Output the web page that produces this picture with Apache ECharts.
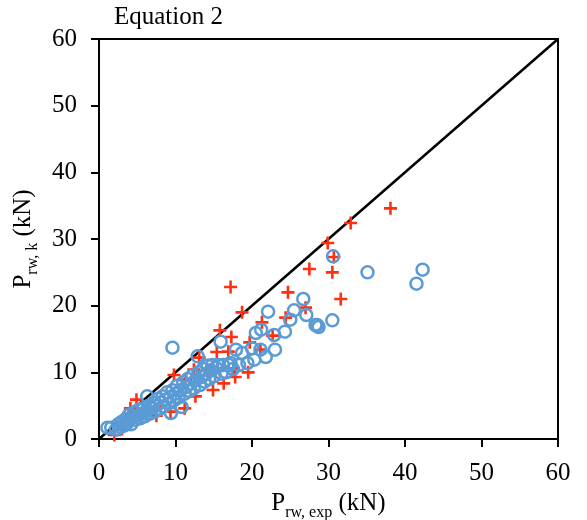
<!DOCTYPE html>
<html><head><meta charset="utf-8">
<script src="https://cdn.jsdelivr.net/npm/echarts@6/dist/echarts.min.js"></script>
<style>html,body{margin:0;padding:0;background:#fff}#c{width:587px;height:520px}</style>
</head><body><div id="c"></div>
<script>
const titleText = 'Equation 2';
const xTicks = [0, 10, 20, 30, 40, 50, 60];
const yTicks = [0, 10, 20, 30, 40, 50, 60];
const lineOfEquality = [[0, 0], [60, 60]];

// Red crosses
const crossPoints = [
  [2.0,0.6],[3.0,1.5],[4.1,4.6],[4.9,5.9],[5.5,3.2],[6.5,4.5],[7.5,3.5],[8.0,5.0],
  [9.35,4.1],[9.8,9.6],[11.2,4.6],[11.3,8.9],[12.4,10.4],[12.6,6.4],[13.1,12.2],
  [14.6,10.4],[14.9,7.35],[15.4,13.05],[15.8,16.3],[16.3,8.35],[16.9,13.1],[17.3,15.3],
  [17.2,22.8],[17.8,9.3],[17.6,10.6],[18.7,19.0],[19.5,10.0],[19.7,14.5],[21.3,17.5],
  [21.1,13.4],[22.7,15.5],[24.4,18.2],[24.7,22.0],[27.0,19.7],[27.5,25.5],[29.9,29.4],
  [30.7,27.3],[30.5,25.0],[31.6,21.0],[32.9,32.4],[38.1,34.6]
];

// Blue circles
const circlePoints = [
  [1.1,1.7],[1.6,1.7],[2.2,1.4],[2.5,2.2],[2.8,1.8],[3.0,2.6],[3.3,2.0],[3.5,3.0],[3.7,2.4],[3.9,3.6],
  [4.0,2.8],[4.2,2.2],[4.4,3.3],[4.6,4.0],[4.8,2.9],[5.0,3.5],[5.2,4.4],[5.4,3.1],[5.6,3.8],
  [5.8,4.6],[6.0,3.4],[6.2,4.2],[6.3,6.4],[6.5,5.0],[6.7,3.8],[6.9,4.6],[7.1,5.4],[7.3,4.1],
  [7.5,5.0],[7.7,6.0],[7.9,4.5],[8.1,5.5],[8.3,6.4],[8.5,4.9],[8.7,5.9],[8.9,7.0],[9.1,5.3],
  [9.3,6.3],[9.4,3.9],[9.6,13.7],[9.6,7.3],[9.8,5.8],[10.0,6.8],[10.2,8.0],[10.4,6.2],
  [10.6,7.3],[10.8,4.8],[11.0,8.5],[11.2,6.8],[11.4,7.8],[11.6,9.0],[11.8,7.2],[12.0,8.3],
  [12.2,9.5],[12.4,7.6],[12.6,8.8],[12.9,12.4],[13.0,10.0],[13.2,8.1],[13.4,9.3],[13.6,10.5],
  [13.8,8.6],[14.0,9.8],[14.2,11.0],[14.4,9.0],[14.6,10.3],[14.8,11.1],[15.0,9.4],[15.3,10.7],
  [15.6,11.1],[15.9,14.6],[16.0,9.8],[16.2,11.1],[16.6,10.0],[17.0,11.1],[17.2,11.4],
  [17.9,13.4],[17.5,10.5],[18.3,11.1],[18.7,12.9],[19.4,11.4],[20.0,13.6],[20.3,11.9],
  [20.5,15.9],[21.1,13.4],[21.2,16.4],[21.8,12.3],[22.1,19.1],[22.9,15.6],[23.0,13.4],
  [24.3,16.1],[25.0,17.9],[25.5,19.3],[26.7,21.0],[27.1,18.6],[28.3,17.1],[28.7,16.8],
  [28.5,17.1],[30.5,17.8],[30.6,27.4],[35.1,25.0],[41.5,23.3],[42.3,25.4]
];

const FONT = '"Liberation Serif","Times New Roman",serif';
const chart = echarts.init(document.getElementById('c'), null, {renderer: 'canvas'});
const crossPath = 'path://M4,0H6V4H10V6H6V10H4V6H0V4H4Z';

const nameRich = {
  p: {fontFamily: FONT, fontSize: 25, color: '#000', lineHeight: 30, verticalAlign: 'top'},
  s: {fontFamily: FONT, fontSize: 16, color: '#000', lineHeight: 17, verticalAlign: 'bottom'}
};

chart.setOption({
  animation: false,
  backgroundColor: '#fff',
  title: {
    text: titleText, left: 109, top: 0,
    textStyle: {fontFamily: FONT, fontSize: 25, fontWeight: 'normal', color: '#000'}
  },
  grid: {left: 99, right: 29, top: 39, bottom: 81, containLabel: false, outerBoundsMode: 'none',
         show: true, borderColor: '#000', borderWidth: 2, backgroundColor: 'transparent'},
  xAxis: {
    type: 'value', min: xTicks[0], max: xTicks[xTicks.length-1], interval: 10,
    axisLine: {lineStyle: {color: '#000', width: 2}},
    axisTick: {show: true, length: 8, lineStyle: {color: '#000', width: 2}},
    splitLine: {show: false},
    axisLabel: {fontFamily: FONT, fontSize: 25, color: '#000', margin: 22},
    name: '{p|P}{s|rw, exp}{p| (kN)}',
    nameLocation: 'middle', nameGap: 46,
    nameTextStyle: {rich: nameRich}
  },
  yAxis: {
    type: 'value', min: yTicks[0], max: yTicks[yTicks.length-1], interval: 10,
    axisLine: {show: true, lineStyle: {color: '#000', width: 2}},
    axisTick: {show: true, length: 8, lineStyle: {color: '#000', width: 2}},
    splitLine: {show: false},
    axisLabel: {fontFamily: FONT, fontSize: 25, color: '#000', margin: 22},
    name: '{p|P}{s|rw, k}{p| (kN)}',
    nameLocation: 'middle', nameGap: 58, nameRotate: 90,
    nameTextStyle: {rich: nameRich}
  },
  series: [
    {
      type: 'line', data: lineOfEquality, symbol: 'none',
      lineStyle: {color: '#000', width: 2.5}, z: 1, silent: true
    },
    {
      type: 'scatter', data: crossPoints, symbol: crossPath, symbolSize: 13,
      itemStyle: {color: '#FF3010', opacity: 1}, z: 2
    },
    {
      type: 'scatter', data: circlePoints, symbol: 'circle', symbolSize: 12,
      itemStyle: {color: 'rgba(0,0,0,0)', borderColor: '#5B9BD5', borderWidth: 2.5, opacity: 1}, z: 3
    }
  ]
});
</script></body></html>
